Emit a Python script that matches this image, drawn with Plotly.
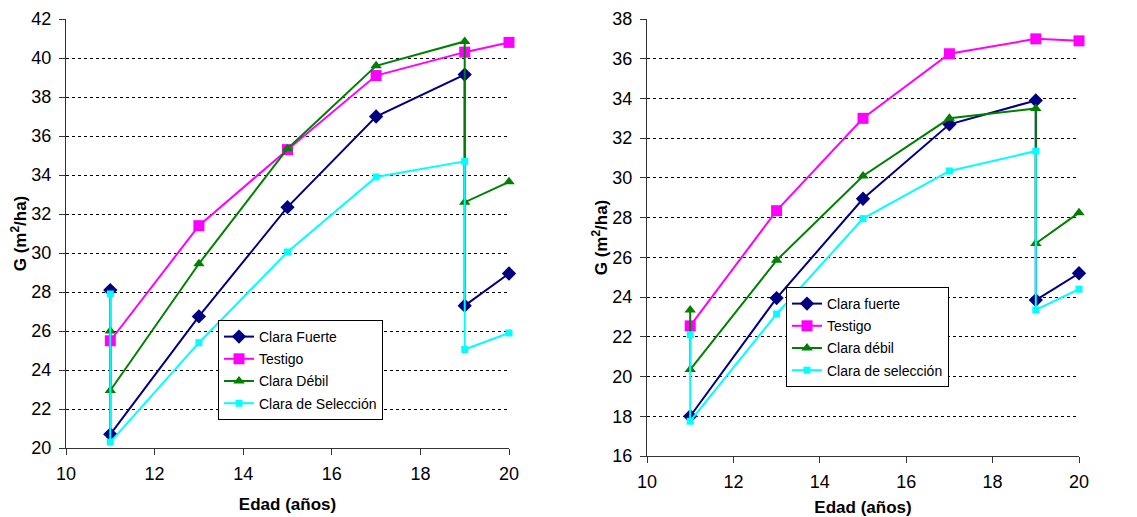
import plotly.graph_objects as go

# ---------------- data: left panel ----------------
cf_l_x = [11, 11, 13, 15, 17, 19, 19, 20]
cf_l_y = [28.1, 20.7, 26.75, 32.35, 37.0, 39.15, 27.3, 28.95]
te_l_x = [11, 13, 15, 17, 19, 20]
te_l_y = [25.5, 31.4, 35.3, 39.1, 40.3, 40.8]
cd_l_x = [11, 11, 13, 15, 17, 19, 19, 20]
cd_l_y = [26.0, 22.95, 29.45, 35.35, 39.6, 40.85, 32.6, 33.65]
cs_l_x = [11, 11, 13, 15, 17, 19, 19, 20]
cs_l_y = [27.9, 20.3, 25.4, 30.05, 33.9, 34.7, 25.05, 25.9]
names_l = ["Clara Fuerte", "Testigo", "Clara Débil", "Clara de Selección"]

# ---------------- data: right panel ----------------
cf_r_x = [11, 13, 15, 17, 19, 19, 20]
cf_r_y = [18.0, 23.95, 28.95, 32.7, 33.9, 23.85, 25.2]
te_r_x = [11, 13, 15, 17, 19, 20]
te_r_y = [22.55, 28.35, 33.0, 36.25, 37.0, 36.9]
cd_r_x = [11, 11, 13, 15, 17, 19, 19, 20]
cd_r_y = [23.35, 20.35, 25.85, 30.1, 33.0, 33.5, 26.7, 28.25]
cs_r_x = [11, 11, 13, 15, 17, 19, 19, 20]
cs_r_y = [22.1, 17.75, 23.15, 27.95, 30.35, 31.35, 23.35, 24.4]
names_r = ["Clara fuerte", "Testigo", "Clara débil", "Clara de selección"]

x_ticks = [10, 12, 14, 16, 18, 20]
y_ticks_l = list(range(20, 43, 2))
y_ticks_r = list(range(16, 39, 2))

colors = ["#000080", "#FF00FF", "#008000", "#00FFFF"]
symbols = ["diamond", "square", "triangle-up", "square"]
sizes = [11, 11, 10, 7]

FONT = "Liberation Sans, Arial, sans-serif"

fig = go.Figure()

left = [(cf_l_x, cf_l_y), (te_l_x, te_l_y), (cd_l_x, cd_l_y), (cs_l_x, cs_l_y)]
right = [(cf_r_x, cf_r_y), (te_r_x, te_r_y), (cd_r_x, cd_r_y), (cs_r_x, cs_r_y)]

for i, (xs, ys) in enumerate(left):
    fig.add_trace(go.Scatter(
        x=xs, y=ys, name=names_l[i], mode="lines+markers",
        line=dict(color=colors[i], width=2),
        marker=dict(color=colors[i], symbol=symbols[i], size=sizes[i]),
        xaxis="x", yaxis="y", legend="legend", legendgroup="L%d" % i,
        cliponaxis=False))

for i, (xs, ys) in enumerate(right):
    fig.add_trace(go.Scatter(
        x=xs, y=ys, name=names_r[i], mode="lines+markers",
        line=dict(color=colors[i], width=2),
        marker=dict(color=colors[i], symbol=symbols[i], size=sizes[i]),
        xaxis="x2", yaxis="y2", legend="legend2", legendgroup="R%d" % i,
        cliponaxis=False))

# page body has an 8px margin; compensate
O = 8
W, H = 1137 - O, 517 - O

def px_x(p):
    return (p - O) / W

def px_y(p):
    return 1 - (p - O) / H

def xax(domain, anchor):
    return dict(domain=domain, anchor=anchor, range=[10, 20], tickvals=x_ticks,
                automargin=False,
                showgrid=False, zeroline=False, showline=True, linecolor="#333",
                linewidth=1, ticks="outside", ticklen=6, tickcolor="#333",
                ticklabelstandoff=3,
                tickfont=dict(family=FONT, size=18, color="#000"),
                title=dict(text="<b>Edad (años)</b>", font=dict(family=FONT, size=17, color="#000"),
                           standoff=15))

def yax(domain, anchor, rng, vals):
    return dict(domain=domain, anchor=anchor, range=rng, tickvals=vals,
                automargin=False,
                showgrid=True, gridcolor="#000", gridwidth=1, griddash="3px,3px",
                zeroline=False, showline=True, linecolor="#333", linewidth=1,
                ticks="outside", ticklen=6, tickcolor="#333",
                ticklabelstandoff=4,
                tickfont=dict(family=FONT, size=18, color="#000"),
                title=dict(text="<b>G (m<sup>2</sup>/ha)</b>", font=dict(family=FONT, size=17, color="#000"),
                           standoff=0))

fig.update_layout(
    width=W, height=H,
    margin=dict(l=0, r=0, t=0, b=0),
    paper_bgcolor="white", plot_bgcolor="white",
    xaxis=xax([px_x(66), px_x(509)], "y"),
    yaxis=yax([px_y(448), px_y(19)], "x", [20, 42], y_ticks_l),
    xaxis2=xax([px_x(647), px_x(1079)], "y2"),
    yaxis2=yax([px_y(456), px_y(19)], "x2", [16, 38], y_ticks_r),
    legend=dict(x=px_x(218), y=px_y(320), xanchor="left", yanchor="top",
                bgcolor="white", bordercolor="#000", borderwidth=1,
                font=dict(family=FONT, size=14, color="#000"), tracegroupgap=1),
    legend2=dict(x=px_x(786), y=px_y(287), xanchor="left", yanchor="top",
                 bgcolor="white", bordercolor="#000", borderwidth=1,
                 font=dict(family=FONT, size=14, color="#000"), tracegroupgap=1),
    showlegend=True,
)

fig.write_html("out.html")
